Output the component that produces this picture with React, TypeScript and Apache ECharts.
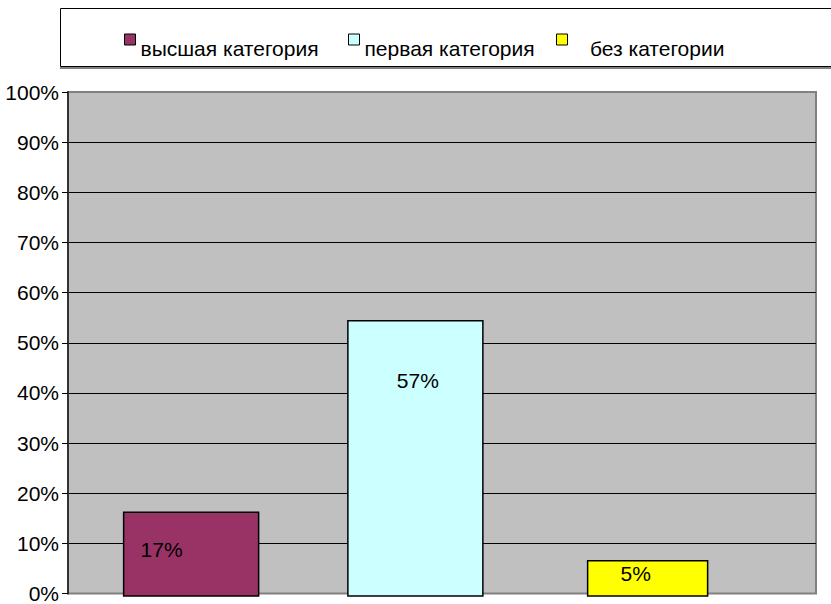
import React, { useEffect, useRef } from "react";
import * as echarts from "echarts";

// ---- data ----
const CATEGORIES = ["высшая категория", "первая категория", "без категории"];
const VALUES = [16.6, 54.6, 7.0];
const LABELS = ["17%", "57%", "5%"];
const Y_MIN = 0;
const Y_MAX = 100;
const Y_INTERVAL = 10;

// ---- styling ----
const COLORS = ["#993366", "#CCFFFF", "#FFFF00"];
const BAR_WIDTHS = [135, 135, 120];
const BAR_SHIFTS = [1, -3, 1];
const LABEL_OFFSETS: [number, number][] = [
  [-29.5, 37.5],
  [2.5, 60],
  [-12, 12.5],
];
const LEGEND_LEFTS = [124, 348, 556];
const LEGEND_PREFIX = ["", "", "   "];
const FONT = "Arial, 'Liberation Sans', sans-serif";

export default function App() {
  const ref = useRef<HTMLDivElement>(null);

  useEffect(() => {
    if (!ref.current) return;
    const chart = echarts.init(ref.current, null, { renderer: "svg" });

    const series = CATEGORIES.map((name, i) => ({
      name,
      type: "custom",
      xAxisIndex: 1,
      yAxisIndex: 1,
      itemStyle: { color: COLORS[i] },
      encode: { x: 0, y: 1 },
      data: [[i, VALUES[i]]],
      renderItem: (_params: any, api: any) => {
        const idx = api.value(0);
        const v = api.value(1);
        const top = api.coord([idx, v]);
        const bottom = api.coord([idx, 0]);
        const w = BAR_WIDTHS[i];
        const cx = top[0] + BAR_SHIFTS[i];
        return {
          type: "group",
          children: [
            {
              type: "rect",
              shape: { x: cx - w / 2, y: top[1], width: w, height: bottom[1] - top[1] },
              style: { fill: COLORS[i], stroke: "#000", lineWidth: 1.5 },
            },
            {
              type: "text",
              x: cx + LABEL_OFFSETS[i][0],
              y: top[1] + LABEL_OFFSETS[i][1],
              style: {
                text: LABELS[i],
                fill: "#000",
                fontSize: 21,
                fontFamily: FONT,
                align: "center",
                verticalAlign: "middle",
              },
            },
          ],
        };
      },
    }));

    const legends = CATEGORIES.map((name, i) => ({
      data: [name],
      left: LEGEND_LEFTS[i],
      top: 20.5,
      padding: 0,
      icon: "rect",
      itemWidth: 11,
      itemHeight: 11,
      itemGap: 0,
      itemStyle: { borderColor: "#000", borderWidth: 1 },
      formatter: (n: string) => "\n" + LEGEND_PREFIX[i] + n,
      textStyle: {
        fontSize: 21,
        fontFamily: FONT,
        color: "#000",
        lineHeight: 17,
      },
      selectedMode: false,
    }));

    chart.setOption({
      animation: false,
      backgroundColor: "#ffffff",
      graphic: [
        {
          type: "rect",
          z: -10,
          shape: { x: 60.5, y: 8.5, width: 800, height: 58 },
          style: { fill: "#fff", stroke: "#000", lineWidth: 1 },
        },
        {
          type: "line",
          z: -10,
          shape: { x1: 60, y1: 68, x2: 831, y2: 68 },
          style: { stroke: "#808080", lineWidth: 2 },
        },
      ],
      legend: legends,
      grid: [
        {
          left: 68,
          top: 92,
          width: 748,
          height: 504,
          show: true,
          backgroundColor: "#C0C0C0",
          borderColor: "#808080",
          borderWidth: 2,
        },
        {
          left: 76,
          top: 92,
          width: 684.75,
          height: 504,
        },
      ],
      xAxis: [
        {
          type: "category",
          gridIndex: 0,
          data: [""],
          show: false,
        },
        {
          type: "category",
          gridIndex: 1,
          data: CATEGORIES,
          show: false,
        },
      ],
      yAxis: [
        {
          type: "value",
          gridIndex: 0,
          min: Y_MIN,
          max: Y_MAX,
          interval: Y_INTERVAL,
          axisLine: { show: true, lineStyle: { color: "#333", width: 2 } },
          axisTick: { show: true, length: 6, lineStyle: { color: "#000", width: 1 } },
          axisLabel: {
            formatter: "{value}%",
            fontSize: 21,
            fontFamily: FONT,
            color: "#000",
            margin: 9,
          },
          splitLine: {
            show: true,
            showMinLine: false,
            showMaxLine: false,
            lineStyle: { color: "#000", width: 1 },
          },
        },
        {
          type: "value",
          gridIndex: 1,
          min: Y_MIN,
          max: Y_MAX,
          show: false,
          splitLine: { show: false },
        },
      ],
      series,
    });

    return () => chart.dispose();
  }, []);

  return (
    <div
      ref={ref}
      style={{ position: "fixed", left: 0, top: 0, width: 831, height: 604 }}
    />
  );
}
